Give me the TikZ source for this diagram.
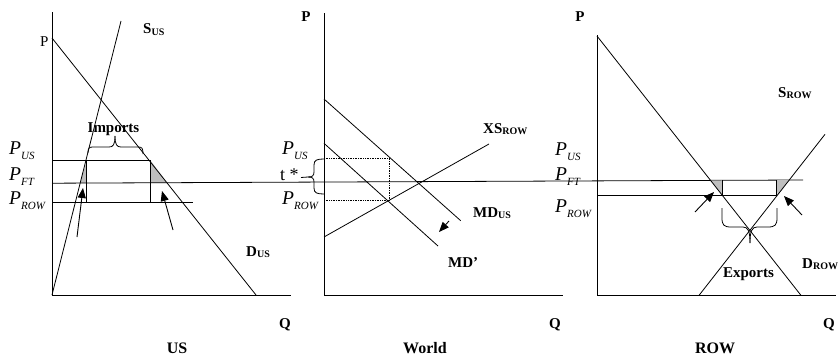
\documentclass[tikz,border=0pt]{standalone}
\usepackage{fontspec}
\setmainfont{Liberation Serif}
\usetikzlibrary{arrows.meta}
\newcommand{\mybsub}[2]{\textbf{#1}{\fontsize{10}{10}\selectfont\raisebox{-1.5pt}{\textbf{#2}}}}
\newcommand{\mypsub}[1]{{\fontsize{19.5}{19.5}\selectfont\textit{P}}{\fontsize{11}{11}\selectfont\raisebox{-5pt}{\textit{#1}}}}
\begin{document}
\begin{tikzpicture}[x=1pt,y=-1pt,
  curve/.style={line width=0.8pt},
  axis/.style={line width=0.9pt},
  dotline/.style={line width=0.7pt,densely dotted},
  shade/.style={fill=black!25,draw=none},
  arr/.style={line width=0.9pt,-{Triangle[length=10pt,width=8pt]}},
  blab/.style={font=\fontsize{15}{15}\selectfont\bfseries,inner sep=0pt},
  nlab/.style={font=\fontsize{16}{16}\selectfont\bfseries,inner sep=0pt,anchor=base},
  plab/.style={inner sep=0pt,anchor=base west},
]
\useasboundingbox (0,0) rectangle (839,356);
% ---------------- US panel ----------------
\coordinate (usO) at (52,295);
\coordinate (usTop) at (52,12);
\coordinate (usX) at (291,295);
\coordinate (usDa) at (52,38);
\coordinate (usDb) at (256,295);
\coordinate (usSb) at (121,21);
\fill[shade] (86.7,160.7) -- (80.2,183.2) -- (86.7,183.2) -- cycle;
\fill[shade] (150.7,160.7) -- (150.7,183.2) -- (167.4,183.2) -- cycle;
\draw[axis] (usTop) -- (usO) -- (usX);
\draw[curve] (usDa) -- (usDb);
\draw[curve] (usO) -- (usSb);
\draw[curve] (52,160.7) -- (150.7,160.7);
\draw[curve] (52,202) -- (193,202);
\draw[curve] (86.7,160.7) -- (86.7,202);
\draw[curve] (150.7,160.7) -- (150.7,202);
% Imports brace
\draw[curve] (88,153) .. controls (88,148) and (89,147) .. (93,147) -- (109,147)
   .. controls (113,147) and (115,145) .. (115,136);
\draw[curve] (143,154) .. controls (143,148) and (142,147) .. (138,147) -- (121,147)
   .. controls (117,147) and (115,145) .. (115,136);
\coordinate (usA1) at (77,237); \coordinate (usA1t) at (83,188);
\coordinate (usA2) at (173,230); \coordinate (usA2t) at (162,191);
\draw[arr] (usA1) -- (usA1t);
\draw[arr] (usA2) -- (usA2t);
% common P_FT line
\coordinate (ftL) at (52,183.2);
\coordinate (ftR) at (803,180);
\draw[curve] (ftL) -- (ftR);
\node[font=\fontsize{15}{15}\selectfont,inner sep=0pt,anchor=base west] (usP) at (40,46) {P};
\node[blab,anchor=base west] (usS) at (143,34) {\mybsub{S}{US}};
\node[blab,anchor=base] (imp) at (113.5,132) {Imports};
\node[plab] (usPus) at (9,154.5) {\mypsub{US}};
\node[plab] (usPft) at (9,180.5) {\mypsub{FT}};
\node[plab] (usProw) at (9,204.5) {\mypsub{ROW}};
\node[blab,anchor=base west] (usD) at (246,256) {\mybsub{D}{US}};
\node[blab,anchor=base] (usQ) at (285,328) {Q};
\node[nlab] (usName) at (177,353) {US};
% ---------------- World panel ----------------
\coordinate (wO) at (324,295);
\coordinate (wTop) at (324,13);
\coordinate (wX) at (563,295);
\draw[axis] (wTop) -- (wO) -- (wX);
\draw[curve] (324,99) -- (460.7,220.7);
\draw[curve] (324,143.3) -- (438,246);
\draw[curve] (324,237) -- (489,144);
\draw[dotline] (324,158) -- (389,158) -- (389,200);
\draw[dotline] (324,200) -- (389,200);
% t* brace
\draw[curve] (324,159) .. controls (317,159) and (314,160) .. (314,165) -- (314,172)
   .. controls (314,176) and (312,177) .. (308,177);
\draw[curve] (324,194) .. controls (317,194) and (314,193) .. (314,188) -- (314,182)
   .. controls (314,178) and (312,177) .. (308,177);
\draw[curve] (301,177.5) -- (308,177);
\coordinate (wA) at (449,221); \coordinate (wAt) at (439,232);
\draw[arr] (wA) -- (wAt);
\node[blab,anchor=base] (wP) at (306,21) {P};
\node[plab] (wPus) at (282,154.5) {\mypsub{US}};
\node[inner sep=0pt,anchor=base west,font=\fontsize{18}{18}\selectfont] (tstar) at (280,180) {t *};
\node[plab] (wProw) at (282,204.5) {\mypsub{ROW}};
\node[blab,anchor=base west] (xs) at (483,133) {\mybsub{XS}{ROW}};
\node[blab,anchor=base west] (mdus) at (473,217) {\mybsub{MD}{US}};
\node[blab,anchor=base west] (mdp) at (448,267) {MD’};
\node[blab,anchor=base] (wQ) at (555,328) {Q};
\node[nlab] (wName) at (425,353) {World};
% ---------------- ROW panel ----------------
\coordinate (rO) at (597,295);
\coordinate (rTop) at (597,35);
\coordinate (rX) at (836,295);
\fill[shade] (710.3,180.3) -- (722,180.3) -- (722,195) -- cycle;
\fill[shade] (776,180.1) -- (789.3,180.1) -- (777.5,195) -- cycle;
\draw[axis] (rTop) -- (rO) -- (rX);
\draw[curve] (597,36) -- (800.7,295);
\draw[curve] (699.3,295) -- (825,134.3);
\draw[curve] (597,195) -- (777,195);
\draw[curve] (722,180.3) -- (722,195);
\draw[curve] (776,180.1) -- (776,195);
% Exports brace
\draw[curve] (722,208) -- (722,218) .. controls (722,225) and (724,227) .. (731,227) -- (743,227)
   .. controls (748,227) and (750,231) .. (750,243);
\draw[curve] (777,208) -- (777,218) .. controls (777,225) and (775,227) .. (768,227) -- (757,227)
   .. controls (752,227) and (750,231) .. (750,243);
\coordinate (rA1) at (695,212); \coordinate (rA1t) at (714,192);
\coordinate (rA2) at (802,215); \coordinate (rA2t) at (784,196);
\draw[arr] (rA1) -- (rA1t);
\draw[arr] (rA2) -- (rA2t);
\node[blab,anchor=base] (rP) at (580,21) {P};
\node[plab] (rPus) at (555,155.5) {\mypsub{US}};
\node[plab] (rPft) at (555,180.5) {\mypsub{FT}};
\node[plab] (rProw) at (555,212.5) {\mypsub{ROW}};
\node[blab,anchor=base west] (rS) at (778,97) {\mybsub{S}{ROW}};
\node[blab,anchor=base west] (rD) at (802,268) {\mybsub{D}{ROW}};
\node[blab,anchor=base] (exp) at (748.5,277) {Exports};
\node[blab,anchor=base] (rQ) at (829,328) {Q};
\node[nlab] (rName) at (715,353) {ROW};
\end{tikzpicture}
\end{document}
